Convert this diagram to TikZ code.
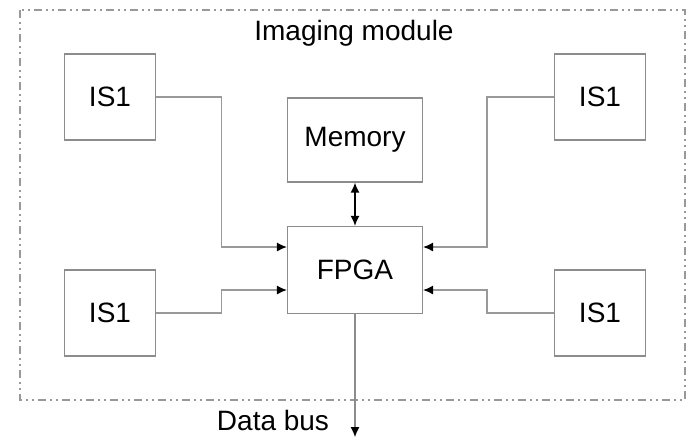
\documentclass[tikz,border=0pt]{standalone}
\usepackage{fontspec}
\setmainfont{Liberation Sans}
\usepackage{tikz}
\usetikzlibrary{arrows.meta}

\tikzset{
  blk/.style={draw=gray!90, line width=0.6pt, minimum width=45.5pt, minimum height=43pt, inner sep=0pt, font=\fontsize{14}{16}\selectfont},
  wire/.style={draw=gray!80, line width=0.6pt},
  tip/.style={-{Latex[length=5pt,width=4.5pt,color=black]}}
}

\begin{document}
\begin{tikzpicture}[x=0.5pt, y=-0.5pt]
      \useasboundingbox (0,0) rectangle (696,441);

      % module frame
      \draw[gray!80, line width=0.7pt, dash pattern=on 4pt off 2pt on 1pt off 2pt on 1pt off 2pt] (20,10) rectangle (685,400);
      \node[font=\fontsize{14}{16}\selectfont] (title) at (354,33) {Imaging module};

      \node[blk] (is1a) at (110,97) {IS1};
      \node[blk] (is1b) at (600,97) {IS1};
      \node[blk] (is1c) at (110,313) {IS1};
      \node[blk] (is1d) at (600,313) {IS1};
      \node[blk, minimum width=67.5pt, minimum height=42pt] (mem) at (355,140) {Memory};
      \node[blk, minimum width=67.5pt, minimum height=43.5pt] (fpga) at (355,270) {FPGA};

      % sensors into the fpga
      \draw[wire, tip] (is1a.east) -- ++(65,0) |- ([yshift=11.5pt]fpga.west);
      \draw[wire, tip] (is1c.east) -- ++(65,0) |- ([yshift=-10pt]fpga.west);
      \draw[wire, tip] (is1b.west) -- ++(-67,0) |- ([yshift=11.5pt]fpga.east);
      \draw[wire, tip] (is1d.west) -- ++(-67,0) |- ([yshift=-10pt]fpga.east);

      \draw[line width=0.7pt, {Latex[length=5pt,width=4.5pt]}-{Latex[length=5pt,width=4.5pt]}] (mem.south) -- (fpga.north);

      % output bus
      \coordinate (bus) at (355,437);
      \draw[wire, draw=gray!90, tip] (fpga.south) -- (bus);
      \node[font=\fontsize{14}{16}\selectfont] (buslbl) at (273,420) {Data bus};
    \end{tikzpicture}
\end{document}
